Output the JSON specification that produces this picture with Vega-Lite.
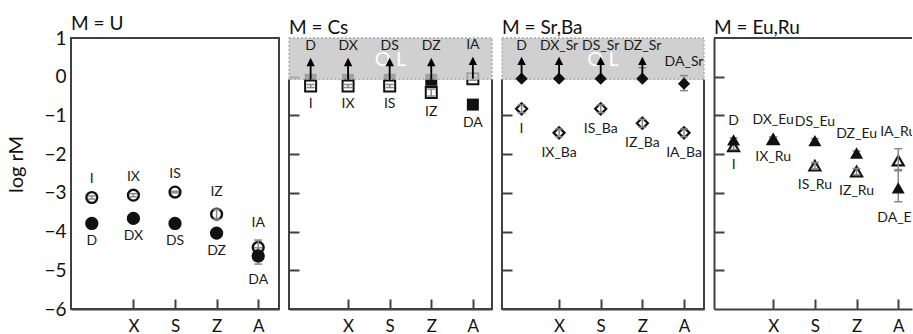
{
"$schema": "https://vega.github.io/schema/vega-lite/v6.json",
"padding": {"left": 5, "top": 14, "right": 0, "bottom": 0},
"spacing": 10,
"bounds": "flush",
"config": {"view": {"stroke": null}, "font": "Lato", "axis": {"grid": false, "labelFont": "Lato", "titleFont": "Lato"}, "title": {"font": "Lato"}},
"datasets": {
"lim": [{"floor": -6, "from": -0.07, "to": 1, "txt": "O L"}],
"U": [
{"x":0,"lab":"I","v":-3.12,"lo":-3.16,"hi":-3.08,"f":false,"ol":false},
{"x":1,"lab":"IX","v":-3.06,"lo":-3.1,"hi":-3.02,"f":false,"ol":false},
{"x":2,"lab":"IS","v":-2.98,"lo":-3.0,"hi":-2.96,"f":false,"ol":false},
{"x":3,"lab":"IZ","v":-3.55,"lo":-3.68,"hi":-3.42,"f":false,"ol":false},
{"x":4,"lab":"IA","v":-4.41,"lo":-4.6,"hi":-4.22,"f":false,"ol":false},
{"x":0,"lab":"D","v":-3.79,"lo":-3.84,"hi":-3.74,"f":true,"ol":false},
{"x":1,"lab":"DX","v":-3.66,"lo":-3.71,"hi":-3.61,"f":true,"ol":false},
{"x":2,"lab":"DS","v":-3.79,"lo":-3.84,"hi":-3.74,"f":true,"ol":false},
{"x":3,"lab":"DZ","v":-4.04,"lo":-4.09,"hi":-3.99,"f":true,"ol":false},
{"x":4,"lab":"DA","v":-4.63,"lo":-4.84,"hi":-4.42,"f":true,"ol":false}
],
"Cs": [
{"x":0.1,"lab":"I","v":-0.24,"lo":-0.28,"hi":-0.2,"f":false,"ol":false},
{"x":1,"lab":"IX","v":-0.24,"lo":-0.28,"hi":-0.2,"f":false,"ol":false},
{"x":2,"lab":"IS","v":-0.24,"lo":-0.28,"hi":-0.2,"f":false,"ol":false},
{"x":3,"lab":"IZ","v":-0.41,"lo":-0.5,"hi":-0.32,"f":false,"ol":false},
{"x":4,"lab":"IA","v":-0.05,"lo":-0.09,"hi":-0.01,"f":false,"ol":true},
{"x":0.1,"lab":"D","v":-0.08,"lo":-0.12,"hi":-0.04,"f":true,"ol":true},
{"x":1,"lab":"DX","v":-0.08,"lo":-0.12,"hi":-0.04,"f":true,"ol":true},
{"x":2,"lab":"DS","v":-0.08,"lo":-0.12,"hi":-0.04,"f":true,"ol":true},
{"x":3,"lab":"DZ","v":-0.08,"lo":-0.12,"hi":-0.04,"f":true,"ol":true},
{"x":4,"lab":"DA","v":-0.72,"lo":-0.77,"hi":-0.67,"f":true,"ol":false}
],
"SrBa": [
{"x":0.1,"lab":"I","v":-0.83,"lo":-0.93,"hi":-0.73,"f":false,"ol":false},
{"x":1,"lab":"IX_Ba","v":-1.45,"lo":-1.55,"hi":-1.35,"f":false,"ol":false},
{"x":2,"lab":"IS_Ba","v":-0.83,"lo":-0.93,"hi":-0.73,"f":false,"ol":false},
{"x":3,"lab":"IZ_Ba","v":-1.2,"lo":-1.3,"hi":-1.1,"f":false,"ol":false},
{"x":4,"lab":"IA_Ba","v":-1.45,"lo":-1.55,"hi":-1.35,"f":false,"ol":false},
{"x":0.1,"lab":"D","v":-0.05,"lo":-0.09,"hi":-0.01,"f":true,"ol":true},
{"x":1,"lab":"DX_Sr","v":-0.05,"lo":-0.09,"hi":-0.01,"f":true,"ol":true},
{"x":2,"lab":"DS_Sr","v":-0.05,"lo":-0.09,"hi":-0.01,"f":true,"ol":true},
{"x":3,"lab":"DZ_Sr","v":-0.05,"lo":-0.09,"hi":0.23,"f":true,"ol":true},
{"x":4,"lab":"DA_Sr","v":-0.18,"lo":-0.36,"hi":0.03,"f":true,"ol":false}
],
"EuRu": [
{"x":0.05,"lab":"I","v":-1.8,"lo":-1.88,"hi":-1.72,"f":false,"ol":false},
{"x":1,"lab":"IX_Ru","v":-1.62,"lo":-1.67,"hi":-1.57,"f":false,"ol":false},
{"x":2,"lab":"IS_Ru","v":-2.3,"lo":-2.38,"hi":-2.22,"f":false,"ol":false},
{"x":3,"lab":"IZ_Ru","v":-2.45,"lo":-2.53,"hi":-2.37,"f":false,"ol":false},
{"x":4,"lab":"IA_Ru","v":-2.17,"lo":-2.43,"hi":-1.86,"f":false,"ol":false},
{"x":0.05,"lab":"D","v":-1.63,"lo":-1.68,"hi":-1.58,"f":true,"ol":false},
{"x":1,"lab":"DX_Eu","v":-1.6,"lo":-1.65,"hi":-1.55,"f":true,"ol":false},
{"x":2,"lab":"DS_Eu","v":-1.65,"lo":-1.7,"hi":-1.6,"f":true,"ol":false},
{"x":3,"lab":"DZ_Eu","v":-1.97,"lo":-2.02,"hi":-1.92,"f":true,"ol":false},
{"x":4,"lab":"DA_Eu","v":-2.87,"lo":-3.23,"hi":-2.4,"f":true,"ol":false}
]
},
"hconcat": [
{
"width": 208, "height": 271,
"view": {"stroke": "#404040", "strokeWidth": 2},
"title": {"text": "M = U", "anchor": "start", "frame": "group", "fontSize": 19, "fontWeight": "normal", "color": "#111", "offset": -20, "baseline": "alphabetic"},
"data": {"name": "U"},
"encoding": {
"x": {"field": "x", "type": "quantitative", "scale": {"domain": [-0.5, 4.5], "nice": false, "zero": false},
"axis": {"values": [1,2,3,4], "labelExpr": "['','X','S','Z','A'][datum.value]", "tickSize": -10, "tickWidth": 2, "tickColor": "#404040", "domainColor": "#404040", "domainWidth": 2, "labelFontSize": 17, "labelColor": "#111", "labelPadding": 19, "labelFlush": false, "title": null}},
"y": {"field": "v", "type": "quantitative", "scale": {"domain": [-6, 1], "nice": false, "zero": false},
"axis": {"values": [-6,-5,-4,-3,-2,-1,0,1], "ticks": false, "domain": false, "labelFontSize": 19, "labelColor": "#111", "labelPadding": 5, "labelFlush": false, "labelOverlap": false, "title": "log rM", "titleFontSize": 20, "titleFontWeight": "normal", "titleColor": "#111", "titleAngle": -90, "titleX": -55, "titleY": 126, "titleAlign": "center", "titleBaseline": "middle"}}
},
"layer": [
{"transform": [{"filter": "!datum.f"}], "mark": {"type": "point", "shape": "circle", "fill": "white", "stroke": "#111", "strokeWidth": 2.4, "size": 117, "opacity": 1}},
{"mark": {"type": "rule", "color": "#888", "strokeWidth": 1.5}, "encoding": {"y": {"field": "lo", "type": "quantitative", "title": null}, "y2": {"field": "hi"}}},
{"mark": {"type": "tick", "orient": "horizontal", "size": 8, "thickness": 1.5, "color": "#888", "opacity": 1}, "encoding": {"y": {"field": "lo", "type": "quantitative", "title": null}}},
{"mark": {"type": "tick", "orient": "horizontal", "size": 8, "thickness": 1.5, "color": "#888", "opacity": 1}, "encoding": {"y": {"field": "hi", "type": "quantitative", "title": null}}},
{"transform": [{"filter": "datum.f"}], "mark": {"type": "point", "shape": "circle", "filled": true, "color": "#111", "size": 177, "opacity": 1}},
{"transform": [{"window": [{"op": "row_number", "as": "rk"}], "sort": [{"field": "v", "order": "descending"}], "groupby": ["x"]}, {"filter": "datum.rk==1"}],
 "mark": {"type": "text", "fontSize": 14, "color": "#1a1a1a", "baseline": "middle", "dy": -17}, "encoding": {"y": {"field": "hi", "type": "quantitative", "title": null}, "text": {"field": "lab"}}},
{"transform": [{"window": [{"op": "row_number", "as": "rk"}], "sort": [{"field": "v", "order": "descending"}], "groupby": ["x"]}, {"filter": "datum.rk==2"}],
 "mark": {"type": "text", "fontSize": 14, "color": "#1a1a1a", "baseline": "middle", "dy": 16}, "encoding": {"y": {"field": "lo", "type": "quantitative", "title": null}, "text": {"field": "lab"}}}
]
},
{
"width": 203, "height": 271,
"title": {"text": "M = Cs", "anchor": "start", "frame": "group", "fontSize": 19, "fontWeight": "normal", "color": "#111", "offset": -15.5, "baseline": "alphabetic"},
"data": {"name": "Cs"},
"layer": [
{"transform": [{"filter": "datum.f"}], "mark": {"type": "point", "shape": "square", "filled": true, "color": "#111", "size": 144, "opacity": 1},
 "encoding": {
 "x": {"field": "x", "type": "quantitative", "scale": {"domain": [-0.42, 4.46], "nice": false, "zero": false},
 "axis": {"values": [1,2,3,4], "labelExpr": "['','X','S','Z','A'][datum.value]", "tickSize": -10, "tickWidth": 2, "tickColor": "#404040", "domainColor": "#404040", "domainWidth": 2, "labelFontSize": 17, "labelColor": "#111", "labelPadding": 19, "labelFlush": false, "title": null}},
 "y": {"field": "v", "type": "quantitative", "scale": {"domain": [-6, 1], "nice": false, "zero": false},
 "axis": {"values": [-5,-4,-3,-2,-1,0], "labels": false, "tickSize": -10, "tickWidth": 2, "tickColor": "#404040", "domain": false, "title": null}}}},
{"transform": [{"filter": "!datum.f"}], "mark": {"type": "point", "shape": "square", "fill": "white", "stroke": "#111", "strokeWidth": 2, "size": 121, "opacity": 1}, "encoding": {"x": {"field": "x", "type": "quantitative", "title": null}, "y": {"field": "v", "type": "quantitative", "title": null}}},
{"transform": [{"filter": "!datum.f"}], "mark": {"type": "rule", "color": "#888", "strokeWidth": 1.5}, "encoding": {"x": {"field": "x", "type": "quantitative", "title": null}, "y": {"field": "lo", "type": "quantitative", "title": null}, "y2": {"field": "hi"}}},
{"transform": [{"filter": "!datum.f"}], "mark": {"type": "tick", "orient": "horizontal", "size": 8, "thickness": 1.5, "color": "#888", "opacity": 1}, "encoding": {"x": {"field": "x", "type": "quantitative", "title": null}, "y": {"field": "lo", "type": "quantitative", "title": null}}},
{"transform": [{"filter": "!datum.f"}], "mark": {"type": "tick", "orient": "horizontal", "size": 8, "thickness": 1.5, "color": "#888", "opacity": 1}, "encoding": {"x": {"field": "x", "type": "quantitative", "title": null}, "y": {"field": "hi", "type": "quantitative", "title": null}}},
{"data": {"name": "lim"}, "mark": {"type": "rect", "fill": "#c4c4c4", "fillOpacity": 0.8, "stroke": "#a8a8a8", "strokeDash": [2, 2], "strokeWidth": 1.3}, "encoding": {"y": {"field": "from", "type": "quantitative", "title": null}, "y2": {"field": "to"}}},
{"data": {"name": "lim"}, "mark": {"type": "text", "fontSize": 20, "color": "white", "baseline": "middle", "dy": 22}, "encoding": {"y": {"field": "to", "type": "quantitative", "title": null}, "text": {"field": "txt"}}},
{"transform": [{"filter": "datum.ol"}], "mark": {"type": "point", "shape": "M0,0L0,-3.3M-0.55,-2.9L0,-4L0.55,-2.9Z", "size": 100, "fill": "#000", "stroke": "#000", "strokeWidth": 1.8, "opacity": 1}, "encoding": {"x": {"field": "x", "type": "quantitative", "title": null}, "y": {"field": "v", "type": "quantitative", "title": null}}},
{"transform": [{"window": [{"op": "row_number", "as": "rk"}], "sort": [{"field": "v", "order": "descending"}], "groupby": ["x"]}, {"filter": "datum.rk==1"}],
 "mark": {"type": "text", "fontSize": 14, "color": "#1a1a1a", "baseline": "middle", "dy": -34}, "encoding": {"x": {"field": "x", "type": "quantitative", "title": null}, "y": {"field": "v", "type": "quantitative", "title": null}, "text": {"field": "lab"}}},
{"transform": [{"window": [{"op": "row_number", "as": "rk"}], "sort": [{"field": "v", "order": "descending"}], "groupby": ["x"]}, {"filter": "datum.rk==2"}],
 "mark": {"type": "text", "fontSize": 14, "color": "#1a1a1a", "baseline": "middle", "dy": 16}, "encoding": {"x": {"field": "x", "type": "quantitative", "title": null}, "y": {"field": "lo", "type": "quantitative", "title": null}, "text": {"field": "lab"}}},
{"data": {"name": "lim"}, "mark": {"type": "rect", "filled": false, "stroke": "#404040", "strokeWidth": 2, "strokeDash": [0, 203, 662.2]}, "encoding": {"y": {"field": "floor", "type": "quantitative", "title": null}, "y2": {"field": "from"}}}
]
},
{
"width": 202, "height": 271,
"title": {"text": "M = Sr,Ba", "anchor": "start", "frame": "group", "fontSize": 19, "fontWeight": "normal", "color": "#111", "offset": -15.5, "baseline": "alphabetic"},
"data": {"name": "SrBa"},
"layer": [
{"data": {"name": "lim"}, "mark": {"type": "rect", "fill": "#d0d0d0", "stroke": "#a8a8a8", "strokeDash": [2, 2], "strokeWidth": 1.3},
 "encoding": {"y": {"field": "from", "type": "quantitative", "title": null, "scale": {"domain": [-6, 1], "nice": false, "zero": false},
 "axis": {"values": [-5,-4,-3,-2,-1,0], "labels": false, "tickSize": -10, "tickWidth": 2, "tickColor": "#404040", "domain": false, "title": null}}, "y2": {"field": "to"}}},
{"data": {"name": "lim"}, "mark": {"type": "text", "fontSize": 20, "color": "white", "baseline": "middle", "dy": 22}, "encoding": {"y": {"field": "to", "type": "quantitative", "title": null}, "text": {"field": "txt"}}},
{"transform": [{"filter": "!datum.f"}], "mark": {"type": "point", "shape": "diamond", "fill": "white", "stroke": "#111", "strokeWidth": 2.2, "size": 121, "opacity": 1},
 "encoding": {
 "x": {"field": "x", "type": "quantitative", "scale": {"domain": [-0.37, 4.48], "nice": false, "zero": false},
 "axis": {"values": [1,2,3,4], "labelExpr": "['','X','S','Z','A'][datum.value]", "tickSize": -10, "tickWidth": 2, "tickColor": "#404040", "domainColor": "#404040", "domainWidth": 2, "labelFontSize": 17, "labelColor": "#111", "labelPadding": 19, "labelFlush": false, "title": null}},
 "y": {"field": "v", "type": "quantitative", "title": null}}},
{"mark": {"type": "rule", "color": "#888", "strokeWidth": 1.5}, "encoding": {"x": {"field": "x", "type": "quantitative", "title": null}, "y": {"field": "lo", "type": "quantitative", "title": null}, "y2": {"field": "hi"}}},
{"mark": {"type": "tick", "orient": "horizontal", "size": 8, "thickness": 1.5, "color": "#888", "opacity": 1}, "encoding": {"x": {"field": "x", "type": "quantitative", "title": null}, "y": {"field": "lo", "type": "quantitative", "title": null}}},
{"mark": {"type": "tick", "orient": "horizontal", "size": 8, "thickness": 1.5, "color": "#888", "opacity": 1}, "encoding": {"x": {"field": "x", "type": "quantitative", "title": null}, "y": {"field": "hi", "type": "quantitative", "title": null}}},
{"transform": [{"filter": "datum.f"}], "mark": {"type": "point", "shape": "diamond", "filled": true, "color": "#111", "size": 150, "opacity": 1}, "encoding": {"x": {"field": "x", "type": "quantitative", "title": null}, "y": {"field": "v", "type": "quantitative", "title": null}}},
{"transform": [{"filter": "datum.ol"}], "mark": {"type": "point", "shape": "M0,0L0,-3.3M-0.55,-2.9L0,-4L0.55,-2.9Z", "size": 100, "fill": "#000", "stroke": "#000", "strokeWidth": 1.8, "opacity": 1}, "encoding": {"x": {"field": "x", "type": "quantitative", "title": null}, "y": {"field": "v", "type": "quantitative", "title": null}}},
{"transform": [{"window": [{"op": "row_number", "as": "rk"}], "sort": [{"field": "v", "order": "descending"}], "groupby": ["x"]}, {"filter": "datum.rk==1 && datum.ol"}],
 "mark": {"type": "text", "fontSize": 14, "color": "#1a1a1a", "baseline": "middle", "dy": -33}, "encoding": {"x": {"field": "x", "type": "quantitative", "title": null}, "y": {"field": "v", "type": "quantitative", "title": null}, "text": {"field": "lab"}}},
{"transform": [{"window": [{"op": "row_number", "as": "rk"}], "sort": [{"field": "v", "order": "descending"}], "groupby": ["x"]}, {"filter": "datum.rk==1 && !datum.ol"}],
 "mark": {"type": "text", "fontSize": 14, "color": "#1a1a1a", "baseline": "middle", "dy": -14}, "encoding": {"x": {"field": "x", "type": "quantitative", "title": null}, "y": {"field": "hi", "type": "quantitative", "title": null}, "text": {"field": "lab"}}},
{"transform": [{"window": [{"op": "row_number", "as": "rk"}], "sort": [{"field": "v", "order": "descending"}], "groupby": ["x"]}, {"filter": "datum.rk==2"}],
 "mark": {"type": "text", "fontSize": 14, "color": "#1a1a1a", "baseline": "middle", "dy": 16}, "encoding": {"x": {"field": "x", "type": "quantitative", "title": null}, "y": {"field": "lo", "type": "quantitative", "title": null}, "text": {"field": "lab"}}},
{"data": {"name": "lim"}, "mark": {"type": "rect", "filled": false, "stroke": "#404040", "strokeWidth": 2, "strokeDash": [0, 202, 661.2]}, "encoding": {"y": {"field": "floor", "type": "quantitative", "title": null}, "y2": {"field": "from"}}}
]
},
{
"width": 198, "height": 271,
"title": {"text": "M = Eu,Ru", "anchor": "start", "frame": "group", "fontSize": 19, "fontWeight": "normal", "color": "#111", "offset": -15.5, "baseline": "alphabetic"},
"data": {"name": "EuRu"},
"layer": [
{"transform": [{"filter": "!datum.f"}], "mark": {"type": "point", "shape": "triangle-up", "fill": "white", "stroke": "#111", "strokeWidth": 2.2, "size": 120, "opacity": 1},
 "encoding": {
 "x": {"field": "x", "type": "quantitative", "scale": {"domain": [-0.42, 4.33], "nice": false, "zero": false},
 "axis": {"values": [1,2,3,4], "labelExpr": "['','X','S','Z','A'][datum.value]", "tickSize": -10, "tickWidth": 2, "tickColor": "#404040", "domainColor": "#404040", "domainWidth": 2, "labelFontSize": 17, "labelColor": "#111", "labelPadding": 19, "labelFlush": false, "title": null}},
 "y": {"field": "v", "type": "quantitative", "scale": {"domain": [-6, 1], "nice": false, "zero": false},
 "axis": {"values": [-5,-4,-3,-2,-1,0], "labels": false, "tickSize": -10, "tickWidth": 2, "tickColor": "#404040", "domain": true, "domainColor": "#404040", "domainWidth": 2, "title": null}}}},
{"mark": {"type": "rule", "color": "#888", "strokeWidth": 1.5}, "encoding": {"x": {"field": "x", "type": "quantitative", "title": null}, "y": {"field": "lo", "type": "quantitative", "title": null}, "y2": {"field": "hi"}}},
{"mark": {"type": "tick", "orient": "horizontal", "size": 8, "thickness": 1.5, "color": "#888", "opacity": 1}, "encoding": {"x": {"field": "x", "type": "quantitative", "title": null}, "y": {"field": "lo", "type": "quantitative", "title": null}}},
{"mark": {"type": "tick", "orient": "horizontal", "size": 8, "thickness": 1.5, "color": "#888", "opacity": 1}, "encoding": {"x": {"field": "x", "type": "quantitative", "title": null}, "y": {"field": "hi", "type": "quantitative", "title": null}}},
{"transform": [{"filter": "datum.f"}], "mark": {"type": "point", "shape": "triangle-up", "filled": true, "color": "#111", "size": 170, "opacity": 1}, "encoding": {"x": {"field": "x", "type": "quantitative", "title": null}, "y": {"field": "v", "type": "quantitative", "title": null}}},
{"transform": [{"window": [{"op": "row_number", "as": "rk"}], "sort": [{"field": "v", "order": "descending"}], "groupby": ["x"]}, {"filter": "datum.rk==1"}],
 "mark": {"type": "text", "fontSize": 14, "color": "#1a1a1a", "baseline": "middle", "dy": -17, "clip": true}, "encoding": {"x": {"field": "x", "type": "quantitative", "title": null}, "y": {"field": "hi", "type": "quantitative", "title": null}, "text": {"field": "lab"}}},
{"transform": [{"window": [{"op": "row_number", "as": "rk"}], "sort": [{"field": "v", "order": "descending"}], "groupby": ["x"]}, {"filter": "datum.rk==2"}],
 "mark": {"type": "text", "fontSize": 14, "color": "#1a1a1a", "baseline": "middle", "dy": 16, "clip": true}, "encoding": {"x": {"field": "x", "type": "quantitative", "title": null}, "y": {"field": "lo", "type": "quantitative", "title": null}, "text": {"field": "lab"}}},
{"data": {"name": "lim"}, "mark": {"type": "rule", "color": "#404040", "strokeWidth": 2}, "encoding": {"y": {"field": "to", "type": "quantitative", "title": null}}}
]
}
]
}
